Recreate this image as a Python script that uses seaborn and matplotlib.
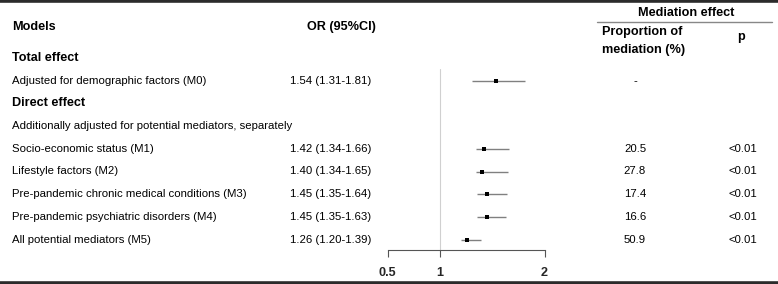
"""
Forest plot of total / direct effects with mediation proportions.
Saves out.png (778x284).
"""
import matplotlib
matplotlib.use("Agg")
import matplotlib.pyplot as plt
import pandas as pd
import seaborn as sns

# --- data ---
models = [
    "Adjusted for demographic factors (M0)",
    "Socio-economic status (M1)",
    "Lifestyle factors (M2)",
    "Pre-pandemic chronic medical conditions (M3)",
    "Pre-pandemic psychiatric disorders (M4)",
    "All potential mediators (M5)",
]
or_est = [1.54, 1.42, 1.40, 1.45, 1.45, 1.26]
or_lo = [1.31, 1.34, 1.34, 1.35, 1.35, 1.20]
or_hi = [1.81, 1.66, 1.65, 1.64, 1.63, 1.39]
proportion = ["-", "20.5", "27.8", "17.4", "16.6", "50.9"]
p_values = ["", "<0.01", "<0.01", "<0.01", "<0.01", "<0.01"]
x_ticks = [0.5, 1, 2]

# row slots (0 = first row under the header); section titles sit in between
model_slots = [1, 4, 5, 6, 7, 8]
section_rows = {0: ("Total effect", True),
                2: ("Direct effect", True),
                3: ("Additionally adjusted for potential mediators, separately", False)}

W, H = 778, 284
ROW0, ROW_STEP = 58, 22.7          # pixel y of first row, row spacing
PX_ONE, PX_UNIT = 440, 104.5        # pixel x of OR=1, pixels per OR unit
AXIS_Y = 250
FS = 8.2
FS_B = 9.1

df = pd.DataFrame({"model": models, "or_est": or_est, "lo": or_lo, "hi": or_hi,
                   "prop": proportion, "p": p_values})
df["y"] = [ROW0 + s * ROW_STEP for s in model_slots]

sns.set_theme(style="white")
plt.rcParams["font.family"] = ["Liberation Sans", "DejaVu Sans"]

fig = plt.figure(figsize=(W / 100, H / 100), dpi=100)

# text layer in pixel coordinates
tab = fig.add_axes([0, 0, 1, 1])
tab.set_xlim(0, W)
tab.set_ylim(H, 0)
tab.axis("off")

# forest layer, same box, data x scale
ax = fig.add_axes([0, 0, 1, 1])
ax.patch.set_alpha(0)
ax.set_xlim(1 - PX_ONE / PX_UNIT, 1 + (W - PX_ONE) / PX_UNIT)
ax.set_ylim(H, 0)

# table rules
tab.axhline(1.2, color="#2b2b2b", lw=2.6)
tab.axhline(H - 1.2, color="#2b2b2b", lw=2.6)
tab.plot([597, 772], [22, 22], color="#888888", lw=1)

bold = dict(fontsize=FS_B, fontweight="bold", va="center", color="black")
norm = dict(fontsize=FS, va="center", color="black")

tab.text(12, 27, "Models", ha="left", **bold)
tab.text(341, 27, "OR (95%CI)", ha="center", **bold)
tab.text(686, 13, "Mediation effect", ha="center", **bold)
tab.text(602, 41, "Proportion of\nmediation (%)", ha="left", linespacing=1.6, **bold)
tab.text(741, 37, "p", ha="center", **bold)

for slot, (label, is_bold) in section_rows.items():
    tab.text(12, ROW0 + slot * ROW_STEP, label, ha="left", **(bold if is_bold else norm))

for _, r in df.iterrows():
    tab.text(12, r["y"], r["model"], ha="left", **norm)
    tab.text(290, r["y"], f"{r['or_est']:.2f} ({r['lo']:.2f}-{r['hi']:.2f})", ha="left", **norm)
    tab.text(635, r["y"], r["prop"], ha="center", **norm)
    tab.text(743, r["y"], r["p"], ha="center", **norm)

# reference line at OR = 1
ax.plot([1, 1], [69, AXIS_Y], color="#d0d0d0", lw=0.8, zorder=0)

# confidence intervals + point estimates
ax.hlines(df["y"], df["lo"], df["hi"], color="#808080", lw=1, zorder=1)
sns.scatterplot(data=df, x="or_est", y="y", marker="s", s=5, color="black",
                edgecolor="black", linewidth=0, ax=ax, zorder=2, legend=False)

# x axis
for side in ["top", "left", "right"]:
    ax.spines[side].set_visible(False)
ax.spines["bottom"].set_position(("data", AXIS_Y))
ax.spines["bottom"].set_bounds(min(x_ticks), max(x_ticks))
ax.spines["bottom"].set_color("#555555")
ax.spines["bottom"].set_linewidth(0.8)
ax.set_xticks(x_ticks)
ax.set_xticklabels(["0.5", "1", "2"], fontsize=FS_B, fontweight="bold")
ax.tick_params(axis="x", direction="out", length=5, width=0.8, color="#555555",
               pad=7, bottom=True)
ax.set_yticks([])
ax.set_xlabel("")
ax.set_ylabel("")

fig.savefig("out.png", dpi=100)
plt.close(fig)
